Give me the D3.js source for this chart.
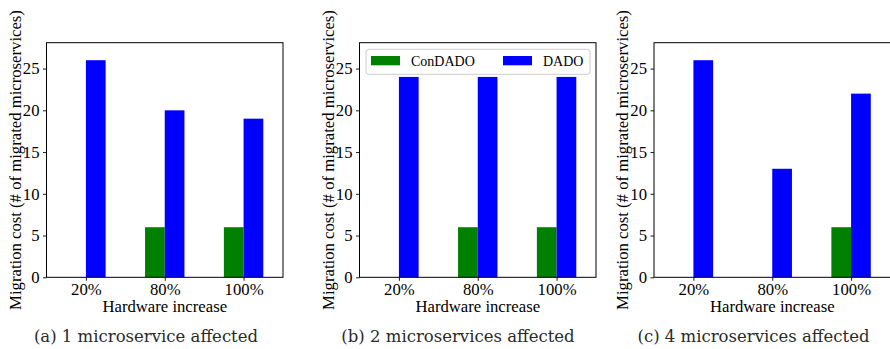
<!DOCTYPE html>
<html>
<head>
<meta charset="utf-8">
<script src="https://cdn.jsdelivr.net/npm/d3@7"></script>
<style>
  body { margin: 0; background: #fff; }
  svg text { font-family: "Liberation Serif", "Times New Roman", serif; }
</style>
</head>
<body>
<div id="chart"></div>
<script>
// data
const categories = ["20%", "80%", "100%"];
const seriesNames = ["ConDADO", "DADO"];
const seriesColors = ["#008000", "#0000ff"];
const yTicks = [0, 5, 10, 15, 20, 25];

const condadoA = [0, 6, 6];
const dadoA = [26, 20, 19];
const condadoB = [0, 6, 6];
const dadoB = [24, 24, 24];
const condadoC = [0, 0, 6];
const dadoC = [26, 13, 22];

const captions = ["(a) 1 microservice affected", "(b) 2 microservices affected", "(c) 4 microservices affected"];

const panels = [
    { left: 46.5, capX: 146, series: [condadoA, dadoA], caption: captions[0], legend: false },
    { left: 359.5, capX: 458, series: [condadoB, dadoB], caption: captions[1], legend: true },
    { left: 654, capX: 753.5, series: [condadoC, dadoC], caption: captions[2], legend: false }
];

const W = 890, H = 349;
const plotW = 236.5, plotTop = 42.7, plotBottom = 277.3;

const svg = d3.select("#chart").append("svg")
    .attr("width", W)
    .attr("height", H);

const y = d3.scaleLinear().domain([0, 28.1]).range([plotBottom, plotTop]);
const barW = 0.25;

panels.forEach(p => {
    const x = d3.scaleLinear().domain([-0.5, 2.5]).range([p.left, p.left + plotW]);
    const g = svg.append("g");

    // bars
    p.series.forEach((vals, si) => {
        g.selectAll(null).data(vals)
            .enter().append("rect")
            .attr("x", (d, i) => x(i - barW + si * barW))
            .attr("width", x(barW) - x(0))
            .attr("y", d => y(d))
            .attr("height", d => y(0) - y(d))
            .attr("fill", seriesColors[si]);
    });

    // y axis
    const yAxis = g.append("g")
        .attr("transform", `translate(${p.left},0)`)
        .call(d3.axisLeft(y).tickValues(yTicks).tickSize(3.5).tickPadding(3.5));
    yAxis.select(".domain").remove();

    // x axis
    const xAxis = g.append("g")
        .attr("transform", `translate(0,${plotBottom})`)
        .call(d3.axisBottom(x).tickValues([0, 1, 2]).tickFormat(i => categories[i]).tickSize(3.5).tickPadding(2.5));
    xAxis.select(".domain").remove();

    g.selectAll(".tick text")
        .attr("font-size", 16.7)
        .attr("fill", "#000")
        .style("font-family", "'Liberation Serif', serif");
    g.selectAll(".tick line").attr("stroke", "#000").attr("stroke-width", 0.9);

    // frame
    g.append("rect")
        .attr("x", p.left).attr("y", plotTop)
        .attr("width", plotW).attr("height", plotBottom - plotTop)
        .attr("fill", "none").attr("stroke", "#000").attr("stroke-width", 1);

    // axis labels
    g.append("text")
        .attr("x", p.left + plotW / 2)
        .attr("y", 312.3)
        .attr("text-anchor", "middle")
        .attr("font-size", 16.7)
        .text("Hardware increase");

    g.append("text")
        .attr("transform", `translate(${p.left - 26},${(plotTop + plotBottom) / 2}) rotate(-90)`)
        .attr("text-anchor", "middle")
        .attr("font-size", 16.7)
        .text("Migration cost (# of migrated microservices)");

    // caption
    g.append("text")
        .attr("x", p.capX)
        .attr("y", 341.5)
        .attr("text-anchor", "middle")
        .attr("font-size", 16.5)
        .attr("fill", "#2a2a2a")
        .style("font-family", "'DejaVu Serif', serif")
        .text(p.caption);

    if (p.legend) {
        const lg = g.append("g").attr("transform", `translate(${p.left + 6.5},${plotTop + 6.6})`);
        lg.append("rect")
            .attr("width", 224).attr("height", 25)
            .attr("rx", 3)
            .attr("fill", "#fff").attr("fill-opacity", 0.8)
            .attr("stroke", "#ccc").attr("stroke-width", 1);
        const items = [{ px: 5, tx: 45 }, { px: 137, tx: 177 }];
        seriesNames.forEach((name, i) => {
            lg.append("rect")
                .attr("x", items[i].px).attr("y", 6.7)
                .attr("width", 29).attr("height", 9.3)
                .attr("fill", seriesColors[i]);
            lg.append("text")
                .attr("x", items[i].tx).attr("y", 17)
                .attr("font-size", 14)
                .text(name);
        });
    }
});
</script>
</body>
</html>
